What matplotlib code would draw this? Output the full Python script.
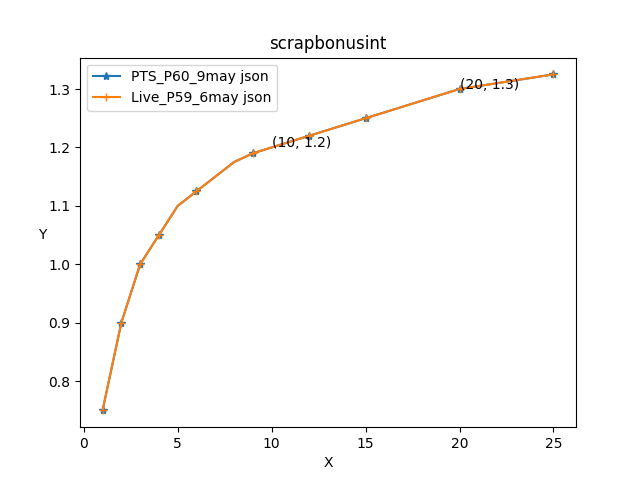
import matplotlib
matplotlib.use("Agg")
import matplotlib.pyplot as plt

x = [1, 2, 3, 4, 5, 6, 8, 9, 10, 12, 15, 20, 25]
y_pts = [0.75, 0.9, 1.0, 1.05, 1.1, 1.125, 1.175, 1.19, 1.2, 1.22, 1.25, 1.3, 1.325]
y_live = [0.75, 0.9, 1.0, 1.05, 1.1, 1.125, 1.175, 1.19, 1.2, 1.22, 1.25, 1.3, 1.325]
marked = [0, 1, 2, 3, 5, 7, 9, 10, 11, 12]
notes = [(10, 1.2), (20, 1.3)]

fig, ax = plt.subplots(figsize=(6.4, 4.8), dpi=100)
ax.plot(x, y_pts, marker="*", markevery=marked, label="PTS_P60_9may json")
ax.plot(x, y_live, marker="+", markevery=marked, label="Live_P59_6may json")
for nx, ny in notes:
    ax.annotate("(%d, %.1f)" % (nx, ny), (nx, ny), fontsize=10)
ax.set_title("scrapbonusint")
ax.set_xlabel("X")
ax.set_ylabel("Y", rotation=0)
ax.legend(loc="upper left")
fig.savefig("out.png")
